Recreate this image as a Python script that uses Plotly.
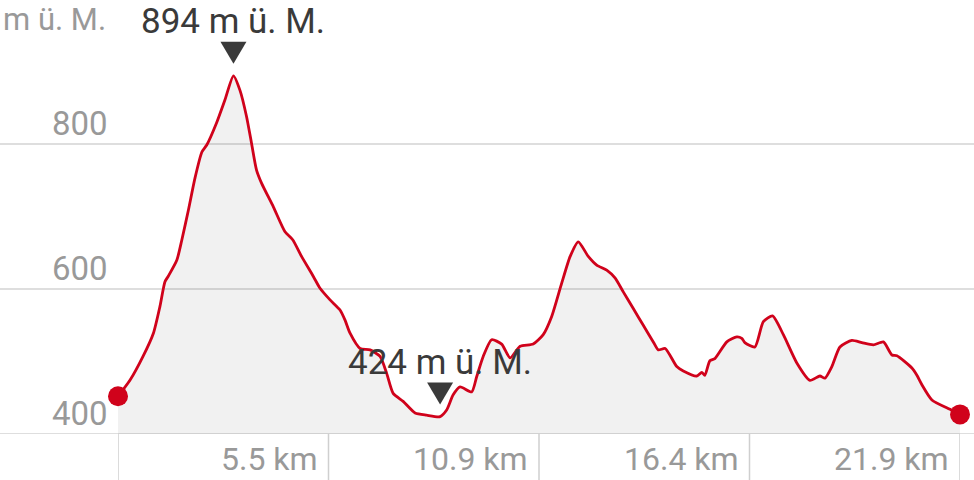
import plotly.graph_objects as go

# Distance along the route (km) and elevation (m ü. M.)
distance_km = [0.00, 0.31, 0.65, 0.92, 1.09, 1.22, 1.31, 1.53, 1.66, 1.83, 2.00, 2.18, 2.31, 2.56, 2.78,
               3.00, 3.17, 3.34, 3.47, 3.60, 3.73, 4.04, 4.34, 4.54, 4.77, 5.08, 5.25, 5.51, 5.77, 5.90,
               6.03, 6.29, 6.55, 6.81, 6.98, 7.15, 7.41, 7.72, 8.02, 8.37, 8.54, 8.71, 8.89, 9.19, 9.32,
               9.49, 9.71, 9.97, 10.19, 10.45, 10.79, 11.05, 11.27, 11.53, 11.75, 11.96, 12.22, 12.44,
               12.70, 12.92, 13.13, 13.39, 13.65, 13.91, 14.04, 14.22, 14.52, 14.69, 15.04, 15.17, 15.25,
               15.38, 15.51, 15.82, 16.08, 16.21, 16.29, 16.55, 16.77, 17.01, 17.29, 17.64, 17.98, 18.24,
               18.37, 18.55, 18.76, 19.07, 19.33, 19.63, 19.89, 20.11, 20.24, 20.63, 20.76, 20.89, 21.15,
               21.62, 21.88]
elevation_m = [452, 474, 507, 539, 576, 610, 618, 640, 668, 709, 753, 789, 799, 829, 861,
               894, 874, 838, 801, 764, 746, 713, 679, 668, 645, 617, 601, 585, 571, 557,
               539, 518, 516, 507, 484, 456, 445, 429, 426, 424, 433, 454, 465, 458, 479,
               507, 530, 524, 505, 521, 524, 537, 562, 608, 645, 665, 645, 633,
               626, 615, 596, 573, 550, 527, 516, 518, 493, 487, 480, 485, 481,
               501, 504, 527, 534, 532, 526, 520, 555, 563, 537, 498, 474, 480,
               477, 493, 520, 529, 526, 523, 527, 509, 508, 491, 481, 468, 447,
               434, 427]

y_ticks = [400, 600, 800]
y_tick_labels = ["400", "600", "800"]
x_ticks = [5.47, 10.94, 16.41, 21.88]
x_tick_labels = ["5.5 km", "10.9 km", "16.4 km", "21.9 km"]
axis_title = "m ü. M."

max_i = elevation_m.index(max(elevation_m))
min_i = elevation_m.index(min(elevation_m))

RED = "#d0021b"
FONT = "Roboto"
GREY = "#999999"
DARK = "#3a3a3a"
L, R, T, B = 118, 14, 0, 46
W, H = 974, 480
pw, ph = W - L - R, H - T - B

fig = go.Figure()
fig.add_trace(go.Scatter(
    x=distance_km, y=elevation_m, mode="lines",
    line=dict(color=RED, width=2.8, shape="spline", smoothing=0.6),
    fill="tozeroy", fillcolor="rgba(0,0,0,0.055)", hoverinfo="skip"))
fig.add_trace(go.Scatter(
    x=[distance_km[0], distance_km[-1]], y=[elevation_m[0], elevation_m[-1]],
    mode="markers", marker=dict(color=RED, size=20), cliponaxis=False, hoverinfo="skip"))

shapes = []
annotations = []
xl0, xl1 = -L / pw, 1 + R / pw
# horizontal grid lines and base line
for v in y_ticks:
    shapes.append(dict(type="line", xref="paper", yref="y", x0=xl0, x1=xl1, y0=v, y1=v,
                       line=dict(color="#bdbdbd", width=1), layer="below"))
for lab, v in zip(y_tick_labels, y_ticks):
    annotations.append(dict(xref="paper", yref="y", x=-8 / pw, y=v, text=lab, showarrow=False,
                            xanchor="right", yanchor="middle", yshift=21,
                            font=dict(family=FONT, size=33, color=GREY)))
# vertical tick separators below the plot
for v in [0] + x_ticks:
    shapes.append(dict(type="line", xref="x", yref="paper", x0=v, x1=v, y0=0, y1=-B / ph,
                       line=dict(color="#cfcfcf", width=1.5)))
for lab, v in zip(x_tick_labels, x_ticks):
    annotations.append(dict(xref="x", yref="paper", x=v, y=-25 / ph, text=lab, showarrow=False,
                            xanchor="right", yanchor="middle", xshift=-9,
                            font=dict(family=FONT, size=32, color=GREY)))
annotations.append(dict(xref="paper", yref="paper", x=-L / pw, y=1, text=axis_title, showarrow=False,
                        xanchor="left", yanchor="top", yshift=0, xshift=2, borderpad=0,
                        font=dict(family=FONT, size=31, color=GREY)))

# extremes: label + down triangle
for i in (max_i, min_i):
    xv, yv = distance_km[i], elevation_m[i]
    shapes.append(dict(type="path", xref="x", yref="y", xsizemode="pixel", ysizemode="pixel",
                       xanchor=xv, yanchor=yv, path="M -13 34 L 13 34 L 0 12 Z",
                       fillcolor=DARK, line=dict(width=0), layer="above"))
    annotations.append(dict(xref="x", yref="y", x=xv, y=yv, text=f"{yv} m ü. M.", showarrow=False,
                            xanchor="center", yanchor="middle", yshift=54,
                            font=dict(family=FONT, size=35, color=DARK)))

fig.update_layout(
    width=W, height=H, margin=dict(l=L, r=R, t=T, b=B),
    paper_bgcolor="white", plot_bgcolor="white", showlegend=False,
    xaxis=dict(range=[0, x_ticks[-1]], visible=False, fixedrange=True),
    yaxis=dict(range=[400, 400 + ph / 0.725], visible=False, fixedrange=True),
    shapes=shapes, annotations=annotations,
)
fig.write_html("out.html", config={"displayModeBar": False},
               post_script="document.body.style.margin='0';document.body.style.overflow='hidden';")
